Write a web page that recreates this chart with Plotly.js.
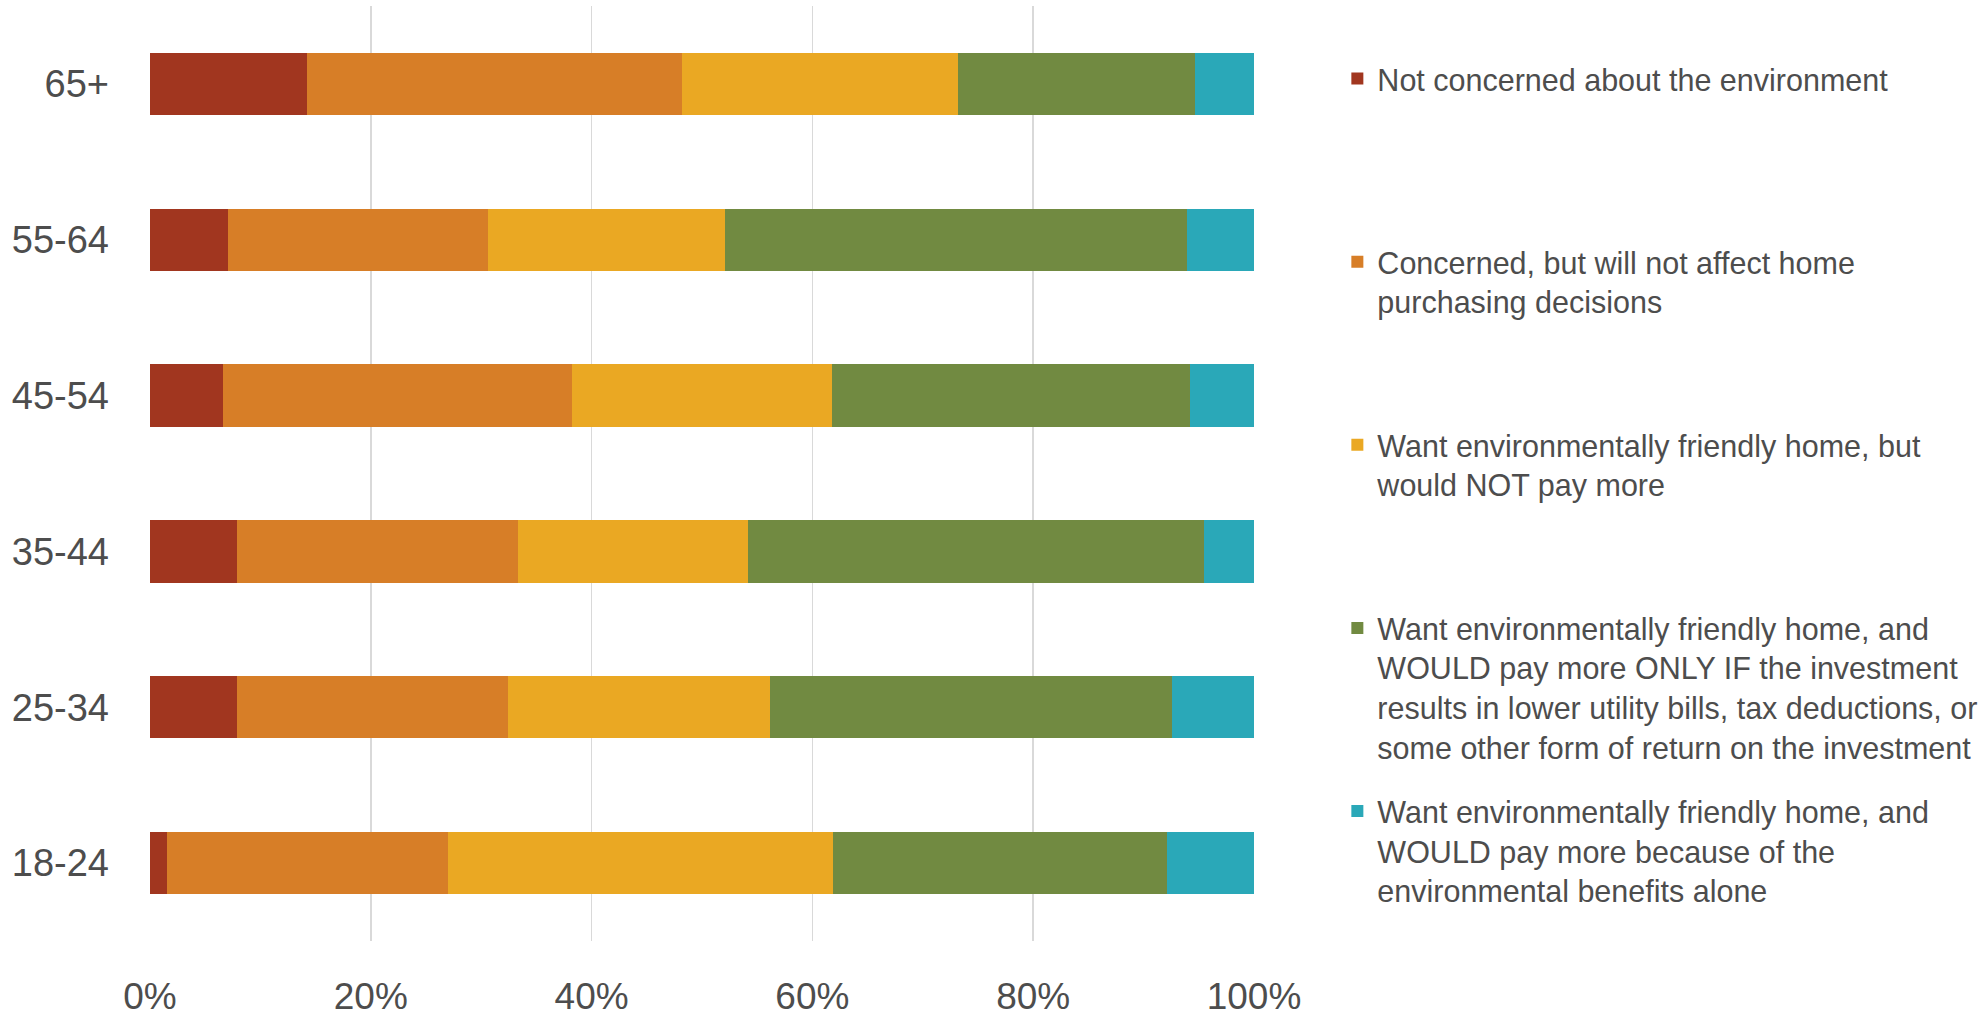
<!DOCTYPE html>
<html>
<head>
<meta charset="utf-8">
<script src="https://cdn.plot.ly/plotly-3.0.1.min.js"></script>
<style>
  html, body { margin: 0; padding: 0; background: #ffffff; }
  #chart { width: 1980px; height: 1029px; }
</style>
</head>
<body>
<div id="chart"></div>
<script>
// ---- Data (percent of respondents) ----
var ageGroups = ['18-24', '25-34', '35-44', '45-54', '55-64', '65+'];

var notConcerned      = [1.5, 7.9, 7.9, 6.6, 7.1, 14.2];
var concernedNoEffect = [25.5, 24.5, 25.4, 31.6, 23.5, 34.0];
var wantNotPayMore    = [34.9, 23.8, 20.9, 23.6, 21.5, 25.0];
var payIfReturn       = [30.2, 36.4, 41.3, 32.4, 41.8, 21.5];
var payForEnvironment = [7.9, 7.4, 4.5, 5.8, 6.1, 5.3];

var seriesNames = [
  'Not concerned about the environment',
  'Concerned, but will not affect home<br>purchasing decisions',
  'Want environmentally friendly home, but<br>would NOT pay more',
  'Want environmentally friendly home, and<br>WOULD pay more ONLY IF the investment<br>results in lower utility bills, tax deductions, or<br>some other form of return on the investment',
  'Want environmentally friendly home, and<br>WOULD pay more because of the<br>environmental benefits alone'
];

var xTickValues = [0, 20, 40, 60, 80, 100];
var xTickLabels = ['0%', '20%', '40%', '60%', '80%', '100%'];

// ---- Styling ----
var seriesValues = [notConcerned, concernedNoEffect, wantNotPayMore, payIfReturn, payForEnvironment];
var seriesColors = ['#A1361F', '#D77E27', '#EAA823', '#718A41', '#2AA8B8'];
var legendIds = ['legend', 'legend2', 'legend3', 'legend4', 'legend5'];
var legendY = [0.9505, 0.7546, 0.5588, 0.3630, 0.1672];

var FONT = '"Liberation Sans", Arial, sans-serif';
var TEXT_COLOR = '#4D4D4D';

var traces = seriesValues.map(function (vals, i) {
  return {
    type: 'bar',
    orientation: 'h',
    y: ageGroups,
    x: vals,
    name: seriesNames[i],
    legend: legendIds[i],
    marker: { color: seriesColors[i], line: { width: 0 } },
    hoverinfo: 'skip'
  };
});

var layout = {
  width: 1980,
  height: 1029,
  paper_bgcolor: '#ffffff',
  plot_bgcolor: '#ffffff',
  font: { family: FONT, color: TEXT_COLOR },
  margin: { l: 150, r: 726, t: 6, b: 88, autoexpand: false },
  barmode: 'stack',
  bargap: 0.6,
  showlegend: true,
  xaxis: {
    range: [0, 100],
    tickvals: xTickValues,
    ticktext: xTickLabels,
    showgrid: true,
    gridcolor: '#D9D9D9',
    gridwidth: 1.5,
    zeroline: false,
    showline: false,
    ticks: '',
    ticklabelstandoff: 30,
    tickfont: { family: FONT, size: 37, color: TEXT_COLOR },
    fixedrange: true
  },
  yaxis: {
    type: 'category',
    categoryorder: 'array',
    categoryarray: ageGroups,
    range: [-0.5, 5.5],
    showgrid: false,
    zeroline: false,
    showline: false,
    ticks: '',
    ticklabelstandoff: 40,
    tickfont: { family: FONT, size: 38, color: TEXT_COLOR },
    fixedrange: true
  }
};

legendIds.forEach(function (id, i) {
  layout[id] = {
    x: 1.0755,
    xanchor: 'left',
    y: legendY[i],
    yanchor: 'top',
    valign: 'top',
    bgcolor: 'rgba(0,0,0,0)',
    borderwidth: 0,
    font: { family: FONT, size: 30.5, color: TEXT_COLOR },
    itemclick: false,
    itemdoubleclick: false
  };
});

Plotly.newPlot('chart', traces, layout, { displayModeBar: false, staticPlot: true });
</script>
</body>
</html>
